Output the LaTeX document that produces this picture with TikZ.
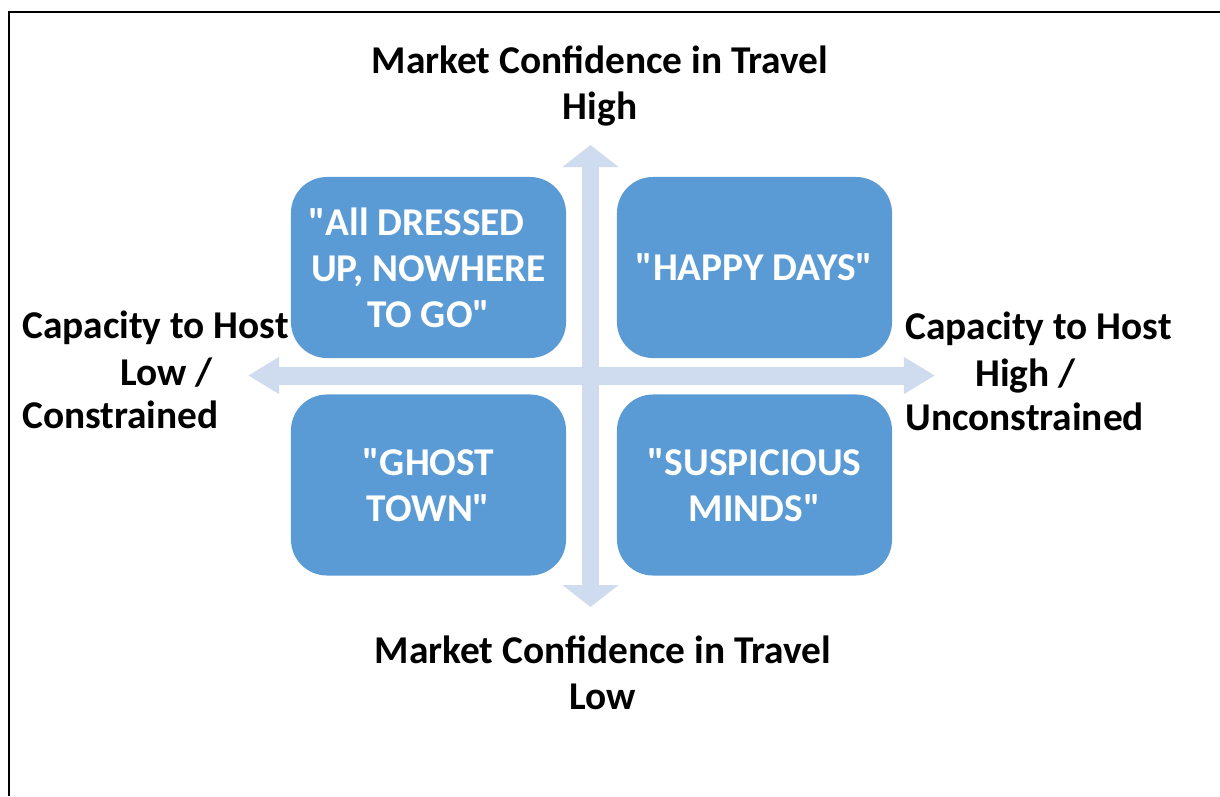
\documentclass[tikz,border=0pt]{standalone}
\usepackage{fontspec}
\setmainfont{Carlito}
\usetikzlibrary{arrows.meta, positioning}

\definecolor{boxblue}{RGB}{91,155,213}
\definecolor{axisblue}{RGB}{207,219,238}

\newcommand{\dq}{\textquotedbl}

\begin{document}
\begin{tikzpicture}[x=0.025cm, y=-0.025cm,
  quad/.style={fill=boxblue, rounded corners=0.9cm, minimum width=6.875cm,
    minimum height=4.525cm, text=white, align=center,
    font=\bfseries\fontsize{28}{32.7}\selectfont},
  lbl/.style={font=\bfseries\fontsize{28}{32.7}\selectfont, inner sep=0pt, align=center},
  vaxis/.style={axisblue, line width=0.425cm,
    {Triangle[width=1.375cm,length=0.55cm]}-{Triangle[width=1.375cm,length=0.55cm]}},
  haxis/.style={axisblue, line width=0.45cm,
    {Triangle[width=0.875cm,length=0.78cm]}-{Triangle[width=0.875cm,length=0.78cm]}}]
  \useasboundingbox (0,0) rectangle (1220,796);
  \draw[line width=0.065cm] (9,796) -- (9,12) -- (1220,12);

  % axes
  \coordinate (top) at (590.5,145);
  \coordinate (bot) at (590.5,607);
  \coordinate (lft) at (248,375.5);
  \coordinate (rgt) at (935,375.5);
  \draw[vaxis] (top) -- (bot);
  \draw[haxis] (lft) -- (rgt);

  % quadrants
  \node[quad] (dressed)    at (428.5,267.5) {\dq All DRESSED\hspace*{0.6cm}\\UP, NOWHERE\\TO GO\dq};
  \node[quad] (happy)      at (754.5,267.5) {\dq HAPPY DAYS\dq};
  \node[quad] (ghost)      at (428.5,485)   {\dq GHOST\\TOWN\dq};
  \node[quad] (suspicious) at (754.5,485)   {\dq SUSPICIOUS\\MINDS\dq};

  % axis labels
  \node[lbl] (high) at (600,86)  {Market Confidence in Travel\\High};
  \node[lbl] (low)  at (603,673) {Market Confidence in Travel\\Low};

  \node[lbl, anchor=base west] (capL)    at (22,338)  {Capacity to Host};
  \node[lbl, anchor=base east] (capLlow) at (213,385) {Low /};
  \node[lbl, anchor=base west] (capLcon) at (22,428)  {Constrained};

  \node[lbl, anchor=base west] (capR)     at (905,339) {Capacity to Host};
  \node[lbl, anchor=base west] (capRhigh) at (975,386) {High /};
  \node[lbl, anchor=base west] (capRun)   at (905,430) {Unconstrained};
\end{tikzpicture}
\end{document}
